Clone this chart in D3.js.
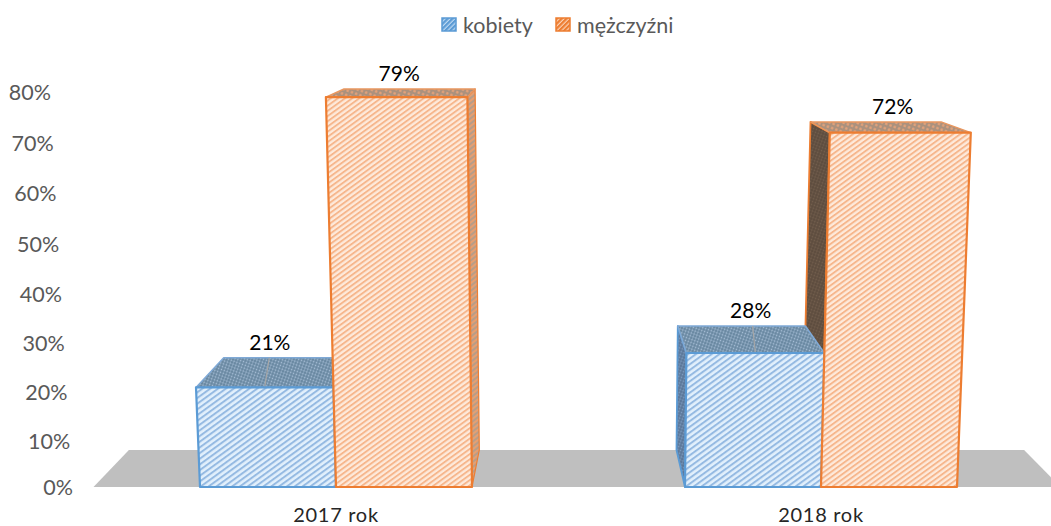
<!DOCTYPE html>
<html><head><meta charset="utf-8">
<script src="https://cdn.jsdelivr.net/npm/d3@7"></script>
<style>html,body{margin:0;padding:0;background:#fff}svg{display:block}text{font-family:Lato,"Open Sans",sans-serif}</style>
</head><body><svg id="c" width="1051" height="526"></svg>
<script>
const categories = ["2017 rok", "2018 rok"];
const seriesNames = ["kobiety", "mężczyźni"];
const kobiety = [21, 28];
const mezczyzni = [79, 72];
const yTicks = [0, 10, 20, 30, 40, 50, 60, 70, 80];

const svg = d3.select("#c");
const y = d3.scalePow().exponent(1.03).domain([0, 80]).range([487, 92]);
const x0 = d3.scaleBand().domain(categories).range([93.5, 1063.5]);
const x1 = d3.scaleBand().domain(seriesNames).range([0, x0.bandwidth()]).paddingInner(0).paddingOuter(0.783);
const tickRight = d3.scaleLinear().domain([0, 80]).range([73, 51]);

// perspective: verticals spread from a far point, depth converges to a vanishing point
const base0 = 487, splayX = 584, splay = 9570, vpX = 570, vpY = -12, depth = 0.0742;
const front = (x, v) => [x + (x - splayX) * (base0 - y(v)) / splay, y(v)];
const back = p => [p[0] + depth * (vpX - p[0]), p[1] + depth * (vpY - p[1])];
const line = pts => "M" + pts.map(p => p.map(n => n.toFixed(1)).join(",")).join("L") + "Z";

const defs = svg.append("defs");
function hatch(id, bg, fg, w, sw, rot) {
  const p = defs.append("pattern").attr("id", id).attr("patternUnits", "userSpaceOnUse")
    .attr("width", w).attr("height", w).attr("patternTransform", `rotate(${rot})`);
  p.append("rect").attr("width", w).attr("height", w).attr("fill", bg);
  p.append("rect").attr("width", w).attr("height", sw).attr("fill", fg);
}
function dots(id, bg, fg, s) {
  const p = defs.append("pattern").attr("id", id).attr("patternUnits", "userSpaceOnUse")
    .attr("width", s).attr("height", s).attr("patternTransform", "rotate(20)");
  p.append("rect").attr("width", s).attr("height", s).attr("fill", bg);
  p.append("circle").attr("cx", s / 2).attr("cy", s / 2).attr("r", s * 0.3).attr("fill", fg);
}
hatch("fBlue", "#e2f0fc", "#95bae2", 4.6, 2, -36);
hatch("fOrange", "#feeadb", "#f6b68c", 4.2, 1.9, -36);
hatch("legBlue", "#bcd8f2", "#5b9bd5", 3.4, 2.2, -45);
hatch("legOrange", "#fbd0b2", "#ed7d31", 3.4, 2.2, -45);
dots("tBlue", "#66869f", "#a7bed6", 3);
dots("tOrange", "#ab917d", "#e4a27a", 4.5);
dots("sBlue", "#5a7698", "#7e9cc0", 3);
dots("sOrangeDark", "#5d4c3e", "#74604e", 3);
hatch("sOrange", "#b79d88", "#e59f72", 4, 2, -38);

const colors = { "kobiety": "#5b9bd5", "mężczyźni": "#ed7d31" };

// floor
const floorFront = [x0.range()[0], x0.range()[1] - 3];
svg.append("path").attr("fill", "#bfbfbf").attr("d", line([
  [floorFront[0], base0], back([floorFront[0], base0]), back([floorFront[1], base0]), [floorFront[1], base0]
]));

// build bars
const bars = [];
categories.forEach((c, i) => {
  [[seriesNames[0], kobiety[i]], [seriesNames[1], mezczyzni[i]]].forEach(([s, v]) => {
    const xl = x0(c) + x1(s), xr = xl + x1.bandwidth();
    const bl = front(xl, 0), br = front(xr, 0), tl = front(xl, v), tr = front(xr, v);
    bars.push({ c, s, v, i, bl, br, tl, tr, btl: back(tl), btr: back(tr), bbl: back(bl), bbr: back(br) });
  });
});
const isK = d => d.s === seriesNames[0];

// side faces
const side = svg.append("g");
bars.slice().reverse().forEach(d => {
  const stroke = colors[d.s];
  if (d.i === 1) {
    side.append("path").attr("d", line([d.bl, d.tl, d.btl, d.bbl]))
      .attr("fill", isK(d) ? "url(#sBlue)" : "url(#sOrangeDark)")
      .attr("stroke", stroke).attr("stroke-width", 1.8).attr("stroke-linejoin", "round");
  } else if (!isK(d)) {
    side.append("path").attr("d", line([d.br, d.tr, d.btr, d.bbr]))
      .attr("fill", "url(#sOrange)")
      .attr("stroke", stroke).attr("stroke-width", 1.2).attr("stroke-linejoin", "round");
  }
});

// tops + fronts, women first so men's fronts overlap
bars.forEach(d => {
  const stroke = colors[d.s];
  svg.append("path").attr("d", line([d.tl, d.btl, d.btr, d.tr]))
    .attr("fill", isK(d) ? "url(#tBlue)" : "url(#tOrange)")
    .attr("stroke", isK(d) ? "#7fa9d6" : "#e9975f").attr("stroke-width", 1.5).attr("stroke-linejoin", "round");
  if (isK(d)) {
    const m = [(d.tl[0] + d.tr[0]) / 2, d.tl[1]], bm = [m[0] + 0.2 * depth * (vpX - m[0]), d.btl[1]];
    svg.append("line").attr("x1", m[0]).attr("y1", m[1]).attr("x2", bm[0]).attr("y2", bm[1])
      .attr("stroke", "#a6a6a6").attr("stroke-width", 1.2);
  }
  svg.append("path").attr("d", line([d.bl, d.tl, d.tr, d.br]))
    .attr("fill", isK(d) ? "url(#fBlue)" : "url(#fOrange)")
    .attr("stroke", stroke).attr("stroke-width", 2.2).attr("stroke-linejoin", "round");
});

// data labels
bars.forEach(d => {
  const mid = (d.tl[0] + d.tr[0]) / 2;
  svg.append("text").attr("x", mid + 0.02 * (vpX - mid) - 1).attr("y", d.btl[1] - 16)
    .attr("text-anchor", "middle").attr("dominant-baseline", "central")
    .attr("font-size", 21).attr("fill", "#000").text(d.v + "%");
});

// y tick labels
svg.append("g").selectAll("text").data(yTicks).join("text")
  .attr("x", d => tickRight(d)).attr("y", d => y(d))
  .attr("text-anchor", "end").attr("dominant-baseline", "central")
  .attr("font-size", 21.5).attr("fill", "#595959").text(d => d + "%");

// category labels
svg.append("g").selectAll("text").data(categories).join("text")
  .attr("x", d => x0(d) + x0.bandwidth() / 2).attr("y", 522)
  .attr("text-anchor", "middle").attr("letter-spacing", 0.7)
  .attr("font-size", 20).attr("fill", "#262626").text(d => d);

// legend
const legX = d3.scaleOrdinal().domain(seriesNames).range([442, 556]);
const leg = svg.append("g").selectAll("g").data(seriesNames).join("g")
  .attr("transform", d => `translate(${legX(d)},18)`);
leg.append("rect").attr("width", 14).attr("height", 13)
  .attr("fill", (d, i) => i ? "url(#legOrange)" : "url(#legBlue)")
  .attr("stroke", d => colors[d]).attr("stroke-width", 1.5);
leg.append("text").attr("x", 21).attr("y", 6.5).attr("dominant-baseline", "central")
  .attr("font-size", 21.5).attr("fill", "#595959").text(d => d);
</script></body></html>
